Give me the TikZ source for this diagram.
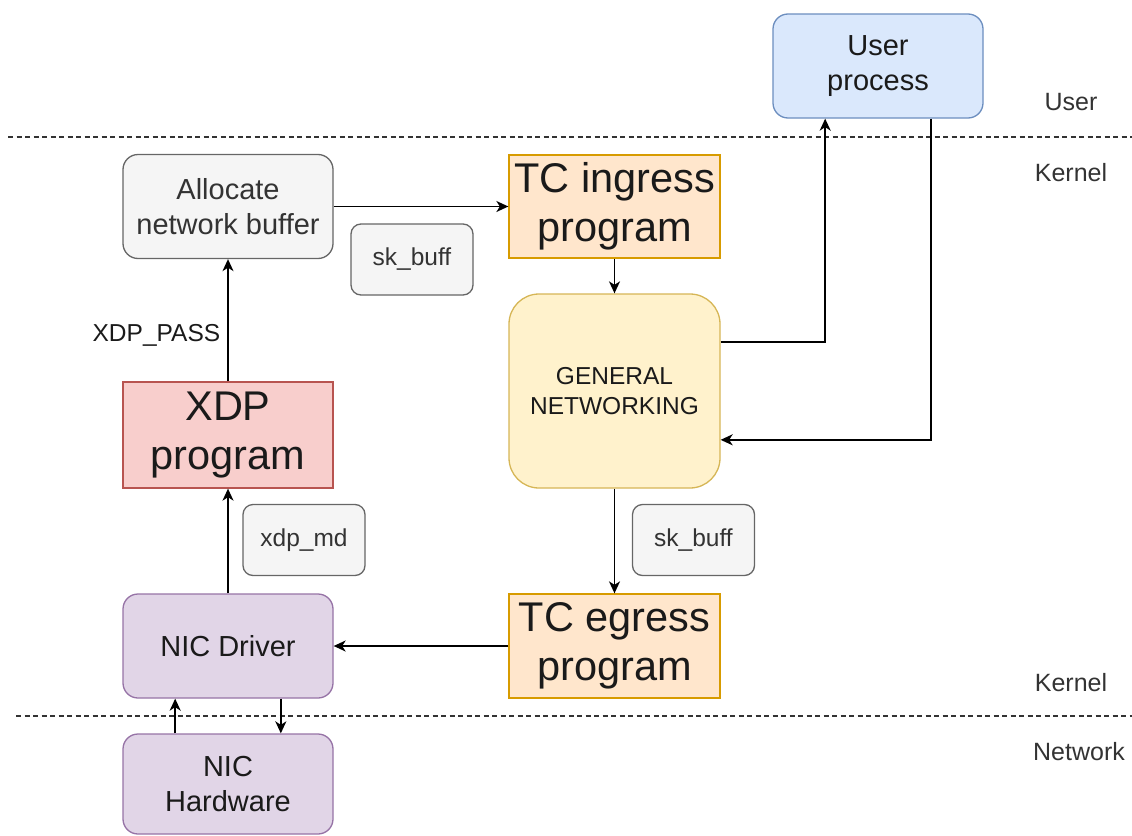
\documentclass[tikz,border=0pt]{standalone}
\usepackage{fontspec}
\setmainfont{Liberation Sans}
\usetikzlibrary{arrows.meta,calc}
\definecolor{bluefill}{HTML}{DAE8FC}\definecolor{bluestroke}{HTML}{6C8EBF}
\definecolor{grayfill}{HTML}{F5F5F5}\definecolor{graystroke}{HTML}{666666}\definecolor{graytext}{HTML}{333333}
\definecolor{orangefill}{HTML}{FFE6CC}\definecolor{orangestroke}{HTML}{D79B00}
\definecolor{redfill}{HTML}{F8CECC}\definecolor{redstroke}{HTML}{B85450}
\definecolor{yellowfill}{HTML}{FFF2CC}\definecolor{yellowstroke}{HTML}{D6B656}
\definecolor{purplefill}{HTML}{E1D5E7}\definecolor{purplestroke}{HTML}{9673A6}
\definecolor{txt}{HTML}{1A1A1A}
\begin{document}
\begin{tikzpicture}[x=1pt,y=-1pt,
  box/.style={draw, line width=1.3pt, minimum width=210pt, minimum height=104pt, align=center, inner sep=0pt, text=txt, font=\fontsize{29}{35}\selectfont},
  rbox/.style={box, rounded corners=15pt},
  bigtext/.style={font=\fontsize{41.5}{49.5}\selectfont},
  tag/.style={draw=graystroke, fill=grayfill, text=graytext, line width=1.3pt, rounded corners=10pt, minimum width=122pt, minimum height=71pt, inner sep=0pt, font=\fontsize{24.5}{29}\selectfont},
  lbl/.style={text=graytext, inner sep=0pt, font=\fontsize{25}{30}\selectfont},
  conn/.style={line width=1.6pt, draw=black, -{Stealth[length=12pt,width=11pt,inset=3.5pt]}},
  divider/.style={line width=1.1pt, draw=graytext, dash pattern=on 5pt off 3.5pt},
]
\useasboundingbox (0,0) rectangle (1132,835);

% layer dividers
\coordinate (d1l) at (8,137);  \coordinate (d1r) at (1132,137);
\coordinate (d2l) at (16,716); \coordinate (d2r) at (1132,716);
\draw[divider] (d1l) -- (d1r);
\draw[divider] (d2l) -- (d2r);

% layer labels
\node[lbl] (luser) at (1071,102) {User};
\node[lbl] (lkern1) at (1071,173) {Kernel};
\node[lbl] (lkern2) at (1071,683) {Kernel};
\node[lbl] (lnet) at (1079,752) {Network};

% boxes
\node[rbox, fill=bluefill, draw=bluestroke] (user) at (878,66) {User\\process};
\node[rbox, fill=grayfill, draw=graystroke, text=graytext] (alloc) at (228,206.5) {Allocate\\network buffer};
\node[box, bigtext, fill=orangefill, draw=orangestroke, minimum width=211pt, minimum height=103pt] (ing) at (614.5,206.5) {TC ingress\\program};
\node[tag] (sk1) at (412,259.5) {sk\_buff};
\node[box, bigtext, fill=redfill, draw=redstroke, minimum height=106pt] (xdp) at (228,435) {XDP\\program};
\node[box, fill=yellowfill, draw=yellowstroke, rounded corners=30pt, minimum width=211pt, minimum height=194pt, font=\fontsize{24.5}{30}\selectfont] (gn) at (614.5,391) {GENERAL\\NETWORKING};
\node[tag] (sk2) at (693.5,540) {sk\_buff};
\node[tag] (md) at (304,540) {xdp\_md};
\node[box, bigtext, fill=orangefill, draw=orangestroke, minimum width=211pt] (egr) at (614.5,646) {TC egress\\program};
\node[rbox, fill=purplefill, draw=purplestroke] (drv) at (228,646) {NIC Driver};
\node[rbox, fill=purplefill, draw=purplestroke, minimum height=100pt] (hw) at (228,784) {NIC\\Hardware};

% connectors
\draw[conn] (xdp.north) -- node[pos=0.38, left, inner sep=0pt, xshift=-7pt, text=txt, font=\fontsize{24.5}{29}\selectfont] (pass) {XDP\_PASS} (alloc.south);
\draw[conn] (alloc.east) -- (ing.west);
\draw[conn] (ing.south) -- (gn.north);
\draw[conn] ($(gn.north east)!0.25!(gn.south east)$) -| ($(user.south west)!0.25!(user.south east)$);
\draw[conn] ($(user.south west)!0.75!(user.south east)$) |- ($(gn.north east)!0.75!(gn.south east)$);
\draw[conn] (gn.south) -- (egr.north);
\draw[conn] (egr.west) -- (drv.east);
\draw[conn] (drv.north) -- (xdp.south);
\draw[conn] ($(hw.north west)!0.25!(hw.north east)$) -- ($(drv.south west)!0.25!(drv.south east)$);
\draw[conn] ($(drv.south west)!0.75!(drv.south east)$) -- ($(hw.north west)!0.75!(hw.north east)$);
\end{tikzpicture}
\end{document}
